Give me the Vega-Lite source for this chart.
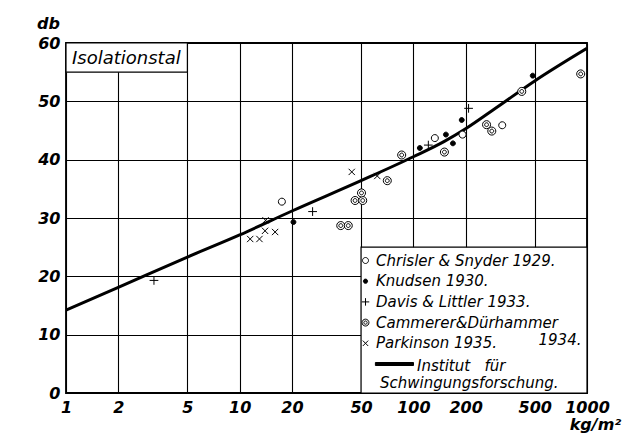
{
  "$schema": "https://vega.github.io/schema/vega-lite/v6.json",
  "width": 521,
  "height": 350,
  "autosize": {"type": "none"},
  "padding": {"left": 66, "top": 43, "right": 50, "bottom": 43},
  "background": "white",
  "config": {
    "view": {"stroke": "black", "strokeWidth": 1.8},
    "axis": {
      "domain": false,
      "ticks": false,
      "grid": true,
      "gridColor": "black",
      "gridWidth": 1.1,
      "gridOpacity": 1,
      "labelFont": "DejaVu Sans",
      "labelFontStyle": "italic",
      "labelFontWeight": "bold",
      "labelFontSize": 16,
      "labelColor": "black",
      "titleFont": "DejaVu Sans",
      "titleFontStyle": "italic",
      "titleFontWeight": "bold",
      "titleFontSize": 16,
      "titleColor": "black"
    },
    "legend": {
      "orient": "none", "legendX": 292, "legendY": 210, "title": null,
      "labelFont": "DejaVu Sans", "labelFontStyle": "italic", "labelFontSize": 15, "labelColor": "black",
      "symbolSize": 36, "symbolStrokeWidth": 1, "symbolStrokeColor": "black", "symbolOpacity": 1,
      "rowPadding": 4.7, "labelOffset": 3, "padding": 0, "labelLimit": 0
    }
  },
  "layer": [
    {
      "data": {"values": [{"label": "Isolationstal"}]},
      "mark": {"type": "rect", "fill": "white", "stroke": "black", "strokeWidth": 1.2},
      "encoding": {
        "x": {"datum": 1, "type": "quantitative",
          "scale": {"type": "log", "domain": [1, 1000], "nice": false},
          "axis": {"values": [1, 2, 5, 10, 20, 50, 100, 200, 500, 1000], "format": "d", "labelPadding": 6, "labelFlush": false, "labelOverlap": false,
            "labelFontStyle": "italic", "titleFontStyle": "italic",
            "title": "kg/m²", "titleX": 529, "titleY": 31, "titleAlign": "center", "titleBaseline": "middle"}},
        "x2": {"datum": 5},
        "y": {"datum": 55, "type": "quantitative",
          "scale": {"domain": [0, 60], "nice": false, "zero": true},
          "axis": {"values": [0, 5, 10, 15, 20, 25, 30, 35, 40, 45, 50, 55, 60],
            "labelExpr": "datum.value % 10 == 0 ? datum.label : ''",
            "labelPadding": 6, "labelFlush": false, "labelOverlap": false,
            "labelFontStyle": "italic", "titleFontStyle": "italic",
            "title": "db", "titleAngle": 0, "titleX": -18, "titleY": -20, "titleAlign": "center", "titleBaseline": "middle"}},
        "y2": {"datum": 60}
      }
    },
    {
      "data": {"values": [{"label": "legend box"}]},
      "mark": {"type": "rect", "fill": "white", "stroke": "black", "strokeWidth": 1.2},
      "encoding": {
        "x": {"datum": 50, "type": "quantitative"},
        "x2": {"datum": 1000},
        "y": {"datum": 0, "type": "quantitative"},
        "y2": {"datum": 25}
      }
    },
    {
      "data": {"values": [
        {"m": 1, "db": 14.2},
        {"m": 2, "db": 18.1},
        {"m": 5, "db": 23.3},
        {"m": 10, "db": 27.1},
        {"m": 20, "db": 31.2},
        {"m": 50, "db": 36.4},
        {"m": 100, "db": 40.5},
        {"m": 150, "db": 43.1},
        {"m": 200, "db": 45.3},
        {"m": 300, "db": 48.9},
        {"m": 500, "db": 53.5},
        {"m": 1000, "db": 59.1}
      ]},
      "mark": {"type": "line", "color": "black", "strokeWidth": 3, "interpolate": "monotone", "clip": true},
      "encoding": {
        "x": {"field": "m", "type": "quantitative"},
        "y": {"field": "db", "type": "quantitative"}
      }
    },
    {
      "data": {"values": [
        {"source": "Chrisler & Snyder 1929.", "m": 17.5, "db": 32.8},
        {"source": "Chrisler & Snyder 1929.", "m": 133, "db": 43.7},
        {"source": "Chrisler & Snyder 1929.", "m": 192, "db": 44.3},
        {"source": "Chrisler & Snyder 1929.", "m": 325, "db": 45.9},
        {"source": "Knudsen 1930.", "m": 20.4, "db": 29.3},
        {"source": "Knudsen 1930.", "m": 109, "db": 42.0},
        {"source": "Knudsen 1930.", "m": 154, "db": 44.3},
        {"source": "Knudsen 1930.", "m": 169, "db": 42.8},
        {"source": "Knudsen 1930.", "m": 190, "db": 46.8},
        {"source": "Knudsen 1930.", "m": 487, "db": 54.4},
        {"source": "Davis & Littler 1933.", "m": 3.21, "db": 19.3},
        {"source": "Davis & Littler 1933.", "m": 26.3, "db": 31.1},
        {"source": "Davis & Littler 1933.", "m": 122, "db": 42.5},
        {"source": "Davis & Littler 1933.", "m": 208, "db": 48.8},
        {"source": "Cammerer&Dürhammer", "m": 38.2, "db": 28.7},
        {"source": "Cammerer&Dürhammer", "m": 42.2, "db": 28.7},
        {"source": "Cammerer&Dürhammer", "m": 46.2, "db": 33.0},
        {"source": "Cammerer&Dürhammer", "m": 51.1, "db": 33.0},
        {"source": "Cammerer&Dürhammer", "m": 50.3, "db": 34.3},
        {"source": "Cammerer&Dürhammer", "m": 70.8, "db": 36.4},
        {"source": "Cammerer&Dürhammer", "m": 85.7, "db": 40.8},
        {"source": "Cammerer&Dürhammer", "m": 151, "db": 41.3},
        {"source": "Cammerer&Dürhammer", "m": 264, "db": 46.0},
        {"source": "Cammerer&Dürhammer", "m": 283, "db": 44.9},
        {"source": "Cammerer&Dürhammer", "m": 421, "db": 51.7},
        {"source": "Cammerer&Dürhammer", "m": 920, "db": 54.7},
        {"source": "Parkinson 1935.", "m": 11.5, "db": 26.4},
        {"source": "Parkinson 1935.", "m": 13.0, "db": 26.4},
        {"source": "Parkinson 1935.", "m": 14.0, "db": 27.8},
        {"source": "Parkinson 1935.", "m": 16.0, "db": 27.6},
        {"source": "Parkinson 1935.", "m": 14.1, "db": 29.6},
        {"source": "Parkinson 1935.", "m": 44.2, "db": 37.9},
        {"source": "Parkinson 1935.", "m": 62, "db": 37.2}
      ]},
      "mark": {"type": "point", "filled": false, "strokeWidth": 1, "size": 49, "opacity": 1},
      "encoding": {
        "x": {"field": "m", "type": "quantitative"},
        "y": {"field": "db", "type": "quantitative"},
        "shape": {"field": "source", "type": "nominal",
          "scale": {
            "domain": ["Chrisler & Snyder 1929.", "Knudsen 1930.", "Davis & Littler 1933.", "Cammerer&Dürhammer", "Parkinson 1935.", "Institut für"],
            "range": [
              "M-1,0A1,1 0 1,0 1,0A1,1 0 1,0 -1,0Z",
              "M-0.7,0A0.7,0.7 0 1,0 0.7,0A0.7,0.7 0 1,0 -0.7,0Z",
              "M-1.25,0H1.25M0,-1.25V1.25",
              "M-1.15,0A1.15,1.15 0 1,0 1.15,0A1.15,1.15 0 1,0 -1.15,0ZM-0.55,0A0.55,0.55 0 1,0 0.55,0A0.55,0.55 0 1,0 -0.55,0Z",
              "M-0.9,-0.9L0.9,0.9M-0.9,0.9L0.9,-0.9",
              "M3.3,-0.5H16V0.5H3.3Z"
            ]},
          "legend": {"labelExpr": "datum.label == 'Institut für' ? '' : datum.label"}
        },
        "fill": {"field": "source", "type": "nominal",
          "scale": {
            "domain": ["Chrisler & Snyder 1929.", "Knudsen 1930.", "Davis & Littler 1933.", "Cammerer&Dürhammer", "Parkinson 1935.", "Institut für"],
            "range": ["white", "black", "white", "white", "white", "black"]},
          "legend": {"labelExpr": "datum.label == 'Institut für' ? '' : datum.label"}
        },
        "stroke": {"field": "source", "type": "nominal",
          "scale": {
            "domain": ["Chrisler & Snyder 1929.", "Knudsen 1930.", "Davis & Littler 1933.", "Cammerer&Dürhammer", "Parkinson 1935.", "Institut für"],
            "range": ["black", "black", "black", "black", "black", "black"]},
          "legend": {"labelExpr": "datum.label == 'Institut für' ? '' : datum.label"}
        }
      }
    },
    {
      "data": {"values": [{"t": "Isolationstal"}]},
      "mark": {"type": "text", "align": "left", "baseline": "middle", "dx": 6, "font": "DejaVu Sans", "fontStyle": "italic", "fontSize": 18, "color": "black"},
      "encoding": {
        "x": {"datum": 1, "type": "quantitative"},
        "y": {"datum": 57.3, "type": "quantitative"},
        "text": {"field": "t"}
      }
    },
    {
      "data": {"values": [{"t": "1934."}]},
      "mark": {"type": "text", "align": "center", "baseline": "middle", "font": "DejaVu Sans", "fontStyle": "italic", "fontSize": 15, "color": "black"},
      "encoding": {
        "x": {"datum": 699, "type": "quantitative"},
        "y": {"datum": 9.1, "type": "quantitative"},
        "text": {"field": "t"}
      }
    },
    {
      "data": {"values": [{"t": "Institut\u00a0\u00a0\u00a0für"}]},
      "mark": {"type": "text", "align": "left", "baseline": "middle", "font": "DejaVu Sans", "fontStyle": "italic", "fontSize": 15, "color": "black"},
      "encoding": {
        "x": {"datum": 105, "type": "quantitative"},
        "y": {"datum": 4.7, "type": "quantitative"},
        "text": {"field": "t"}
      }
    },
    {
      "data": {"values": [{"t": "Schwingungsforschung."}]},
      "mark": {"type": "text", "align": "left", "baseline": "middle", "font": "DejaVu Sans", "fontStyle": "italic", "fontSize": 15, "color": "black"},
      "encoding": {
        "x": {"datum": 64.3, "type": "quantitative"},
        "y": {"datum": 1.8, "type": "quantitative"},
        "text": {"field": "t"}
      }
    }
  ]
}
